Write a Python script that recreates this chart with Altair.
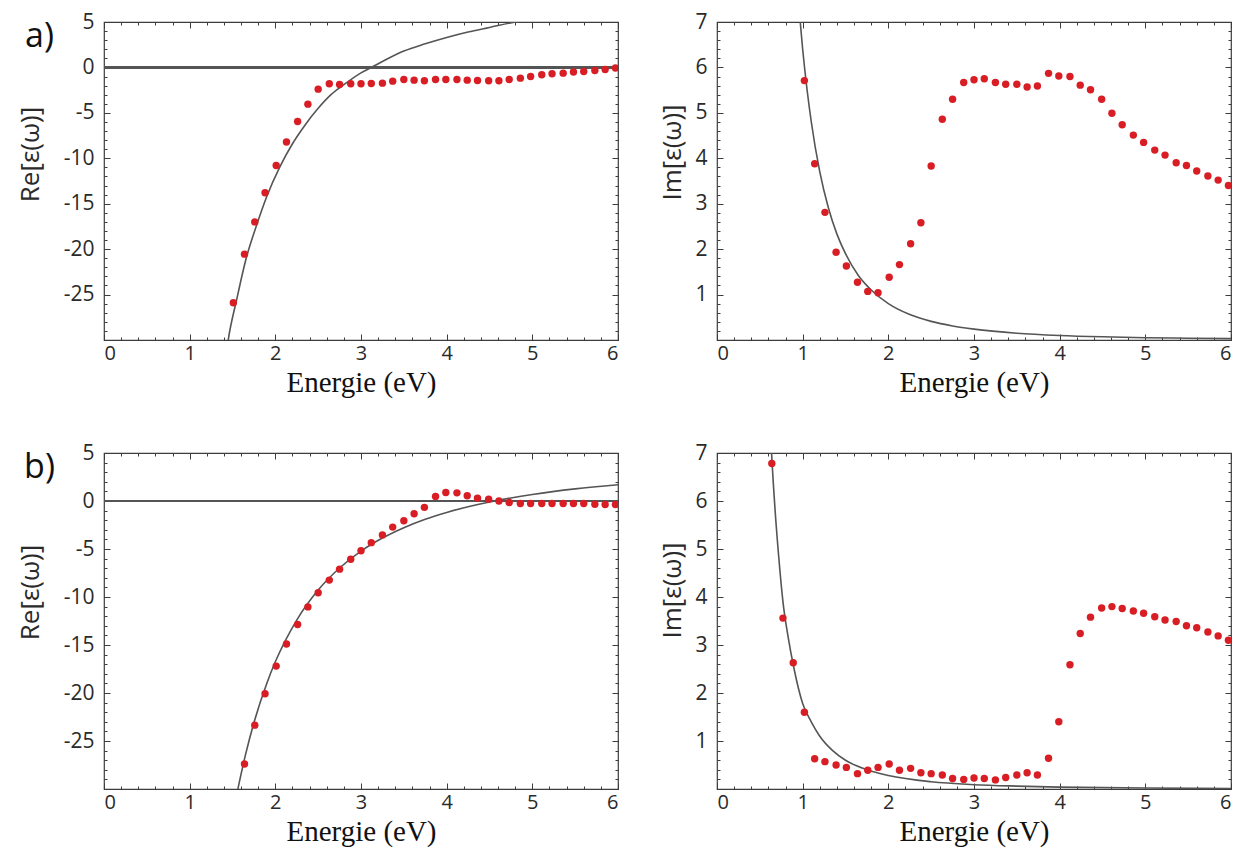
import altair as alt
import pandas as pd

# ---------------- data ----------------
# a) gold : Re part (points)
AU_RE_E = [1.51, 1.64, 1.76, 1.88, 2.01, 2.13, 2.26, 2.38, 2.50, 2.63, 2.75, 2.88, 3.00,
           3.12, 3.25, 3.37, 3.50, 3.62, 3.74, 3.87, 3.99, 4.12, 4.24, 4.36, 4.49, 4.61,
           4.73, 4.86, 4.98, 5.11, 5.23, 5.36, 5.48, 5.60, 5.73, 5.85, 5.97]
AU_RE_V = [-25.9, -20.55, -17.0, -13.8, -10.8, -8.2, -5.96, -4.04, -2.39, -1.80, -1.88, -1.80, -1.80,
           -1.76, -1.73, -1.51, -1.32, -1.40, -1.47, -1.32, -1.32, -1.32, -1.40, -1.43, -1.47, -1.47,
           -1.32, -1.18, -0.99, -0.81, -0.70, -0.63, -0.51, -0.44, -0.33, -0.22, -0.07]
# a) gold : Re part (model curve)
AU_RE_FIT_E = [1.40, 1.45, 1.55, 1.66, 1.78, 1.90, 2.05, 2.20, 2.35, 2.50, 2.65, 2.80, 3.00,
               3.12, 3.30, 3.50, 3.75, 4.00, 4.25, 4.50, 4.80, 5.00]
AU_RE_FIT_V = [-33.5, -30.0, -25.5, -21.0, -17.4, -14.2, -11.0, -8.4, -6.3, -4.5, -3.0, -1.9, -0.6,
               0.0, 0.9, 1.8, 2.6, 3.3, 3.9, 4.4, 5.0, 5.3]

# a) gold : Im part (points)
AU_IM_E = [1.02, 1.14, 1.26, 1.39, 1.51, 1.64, 1.76, 1.88, 2.01, 2.13, 2.26, 2.38, 2.50, 2.63,
           2.75, 2.88, 3.00, 3.12, 3.25, 3.37, 3.50, 3.62, 3.74, 3.87, 3.99, 4.12, 4.24, 4.36,
           4.49, 4.61, 4.73, 4.86, 4.98, 5.11, 5.23, 5.36, 5.48, 5.60, 5.73, 5.85, 5.97]
AU_IM_V = [5.71, 3.88, 2.81, 1.93, 1.63, 1.27, 1.07, 1.04, 1.38, 1.66, 2.12, 2.58, 3.83, 4.86,
           5.30, 5.67, 5.73, 5.75, 5.67, 5.63, 5.63, 5.57, 5.59, 5.87, 5.81, 5.80, 5.61, 5.51,
           5.30, 4.99, 4.74, 4.51, 4.35, 4.18, 4.07, 3.90, 3.84, 3.72, 3.61, 3.52, 3.40]
# a) gold : Im part (model curve)
AU_IM_FIT_E = [0.95, 1.00, 1.05, 1.10, 1.20, 1.30, 1.40, 1.50, 1.65, 1.80, 2.00, 2.25, 2.50,
               2.75, 3.00, 3.50, 4.00, 4.50, 5.00, 5.50, 6.00]
AU_IM_FIT_V = [7.46, 6.40, 5.53, 4.81, 3.70, 2.91, 2.33, 1.90, 1.42, 1.10, 0.80, 0.56, 0.41,
               0.31, 0.24, 0.15, 0.10, 0.07, 0.05, 0.04, 0.03]

# b) silver : Re part (points)
AG_RE_E = [1.64, 1.76, 1.88, 2.01, 2.13, 2.26, 2.38, 2.50, 2.63, 2.75, 2.88, 3.00, 3.12,
           3.25, 3.37, 3.50, 3.62, 3.74, 3.87, 3.99, 4.12, 4.24, 4.36, 4.49, 4.61, 4.73,
           4.86, 4.98, 5.11, 5.23, 5.36, 5.48, 5.60, 5.73, 5.85, 5.97]
AG_RE_V = [-27.4, -23.35, -20.07, -17.2, -14.9, -12.87, -11.03, -9.56, -8.24, -7.10, -6.07, -5.18, -4.34,
           -3.53, -2.72, -2.06, -1.32, -0.66, 0.48, 0.88, 0.85, 0.55, 0.29, 0.18, 0.0, -0.15,
           -0.26, -0.26, -0.26, -0.26, -0.26, -0.26, -0.26, -0.33, -0.37, -0.37]
# b) silver : Re part (model curve)
AG_RE_FIT_E = [1.50, 1.57, 1.65, 1.75, 1.90, 2.00, 2.25, 2.50, 2.75, 3.00, 3.25, 3.50, 3.75,
               4.00, 4.25, 4.50, 4.75, 5.00, 5.50, 6.00]
AG_RE_FIT_V = [-32.9, -29.7, -26.5, -23.1, -19.0, -16.75, -12.4, -9.28, -6.98, -5.22, -3.86, -2.78, -1.90,
               -1.19, -0.60, -0.10, 0.32, 0.68, 1.26, 1.69]

# b) silver : Im part (points)
AG_IM_E = [0.64, 0.77, 0.89, 1.02, 1.14, 1.26, 1.39, 1.51, 1.64, 1.76, 1.88, 2.01, 2.13, 2.26,
           2.38, 2.50, 2.63, 2.75, 2.88, 3.00, 3.12, 3.25, 3.37, 3.50, 3.62, 3.74, 3.87, 3.99,
           4.12, 4.24, 4.36, 4.49, 4.61, 4.73, 4.86, 4.98, 5.11, 5.23, 5.36, 5.48, 5.60, 5.73,
           5.85, 5.97]
AG_IM_V = [6.78, 3.56, 2.63, 1.60, 0.63, 0.57, 0.50, 0.45, 0.32, 0.39, 0.45, 0.52, 0.39, 0.43,
           0.34, 0.32, 0.29, 0.22, 0.20, 0.23, 0.22, 0.19, 0.24, 0.29, 0.34, 0.29, 0.64, 1.40,
           2.59, 3.24, 3.58, 3.77, 3.80, 3.76, 3.71, 3.66, 3.59, 3.52, 3.49, 3.40, 3.36, 3.27,
           3.19, 3.10]
# b) silver : Im part (model curve)
AG_IM_FIT_E = [0.62, 0.64, 0.68, 0.72, 0.77, 0.83, 0.90, 1.00, 1.10, 1.20, 1.35, 1.50, 1.75,
               2.00, 2.50, 3.00, 3.50, 4.00, 5.00, 6.00]
AG_IM_FIT_V = [7.60, 6.90, 5.76, 4.85, 3.90, 3.17, 2.50, 1.78, 1.40, 1.10, 0.80, 0.60, 0.40,
               0.28, 0.15, 0.09, 0.06, 0.04, 0.02, 0.01]

# axis tick values / labels
X_MAJOR = [0, 1, 2, 3, 4, 5, 6]
X_MINOR = [round(0.2 * i, 1) for i in range(31)]
RE_MAJOR = [5, 0, -5, -10, -15, -20, -25]
RE_MINOR = list(range(-30, 6))
IM_MAJOR = [1, 2, 3, 4, 5, 6, 7]
IM_MINOR = [round(0.2 * i, 1) for i in range(36)]

RE_TITLE = "Re[ε(ω)]"
IM_TITLE = "Im[ε(ω)]"
X_TITLE = "Energie (eV)"

RED = "#d81e24"
CURVE = "#555555"
FRAME = "#3c3c3c"
TXT = "#2a2a2a"

W = 514
H_TOP, H_BOT = 318, 336
MAJ, MIN = 6, 3


def tick_axis(orient, values, size, **extra):
    return alt.Axis(orient=orient, values=values, tickSize=size, offset=-size,
                    labels=False, domain=False, grid=False,
                    tickColor=FRAME, tickWidth=1, **extra)


def panel(pe, pv, ce, cv, ydom, ymaj, ymin, ytitle, title_x, title_y, zero, height, tag=None):
    pts = pd.DataFrame({"E": pe, "V": pv})
    crv = pd.DataFrame({"E": ce, "V": cv})
    xs = alt.Scale(domain=[0, 6], nice=False, zero=False)
    ys = alt.Scale(domain=ydom, nice=False, zero=False)

    x_main = alt.Axis(orient="bottom", values=X_MAJOR, tickSize=MAJ, offset=-MAJ,
                      domain=False, grid=False, tickColor=FRAME, tickWidth=1,
                      labelPadding=3, labelFont="Open Sans", labelFontSize=20,
                      labelColor=TXT, title=X_TITLE, titleFont="Liberation Serif",
                      titleFontSize=29, titleFontWeight="normal", titleColor="#111111",
                      titlePadding=5)
    y_main = alt.Axis(orient="left", values=ymaj, tickSize=MAJ, offset=-MAJ,
                      domain=False, grid=False, tickColor=FRAME, tickWidth=1,
                      labelPadding=10, labelFont="Open Sans", labelFontSize=21,
                      labelColor=TXT, labelExpr="toString(datum.value)",
                      title=ytitle, titleFont="Open Sans",
                      titleFontSize=26, titleFontWeight="normal", titleColor=TXT,
                      titleX=title_x, titleY=title_y, titleBaseline="middle",
                      titleAlign="center", titleAngle=270)
    if tag:
        y_minor_left = tick_axis("left", ymin, MIN, title=tag, titleAngle=0,
                                 titleX=-68, titleY=14, titleAlign="center",
                                 titleBaseline="middle", titleFont="Open Sans",
                                 titleFontSize=34, titleFontWeight="normal",
                                 titleColor="#111111")
    else:
        y_minor_left = tick_axis("left", ymin, MIN, title=None)

    layers = []
    if zero:
        layers.append(
            alt.Chart(pts).mark_rule(color=CURVE, strokeWidth=1.4).encode(
                y=alt.Y(datum=0, scale=ys, axis=None)
            )
        )
    layers.append(
        alt.Chart(crv).mark_line(color=CURVE, strokeWidth=1.6, clip=True,
                                 interpolate="monotone").encode(
            x=alt.X("E:Q", scale=xs, axis=tick_axis("bottom", X_MINOR, MIN, title=None)),
            y=alt.Y("V:Q", scale=ys, axis=y_minor_left),
        )
    )
    layers.append(
        alt.Chart(crv).mark_line(strokeOpacity=0, clip=True).encode(
            x=alt.X("E:Q", scale=xs, axis=tick_axis("top", X_MAJOR, MAJ, title=None)),
            y=alt.Y("V:Q", scale=ys, axis=tick_axis("right", ymaj, MAJ, title=None)),
        )
    )
    layers.append(
        alt.Chart(crv).mark_line(strokeOpacity=0, clip=True).encode(
            x=alt.X("E:Q", scale=xs, axis=tick_axis("top", X_MINOR, MIN, title=None)),
            y=alt.Y("V:Q", scale=ys, axis=tick_axis("right", ymin, MIN, title=None)),
        )
    )
    layers.append(
        alt.Chart(pts).mark_circle(color=RED, size=55, opacity=1, clip=True).encode(
            x=alt.X("E:Q", scale=xs, axis=x_main),
            y=alt.Y("V:Q", scale=ys, axis=y_main),
        )
    )
    return alt.layer(*layers).resolve_axis(x="independent", y="independent").properties(
        width=W, height=height
    )


a_re = panel(AU_RE_E, AU_RE_V, AU_RE_FIT_E, AU_RE_FIT_V, [-30, 5], RE_MAJOR, RE_MINOR,
             RE_TITLE, -80, 132, True, H_TOP, "a)")
a_im = panel(AU_IM_E, AU_IM_V, AU_IM_FIT_E, AU_IM_FIT_V, [0, 7], IM_MAJOR, IM_MINOR,
             IM_TITLE, -51, 130, False, H_TOP)
b_re = panel(AG_RE_E, AG_RE_V, AG_RE_FIT_E, AG_RE_FIT_V, [-30, 5], RE_MAJOR, RE_MINOR,
             RE_TITLE, -80, 139, True, H_BOT, "b)")
b_im = panel(AG_IM_E, AG_IM_V, AG_IM_FIT_E, AG_IM_FIT_V, [0, 7], IM_MAJOR, IM_MINOR,
             IM_TITLE, -51, 137, False, H_BOT)

chart = alt.concat(a_re, a_im, b_re, b_im, columns=2,
                   spacing={"row": 113, "column": 99}, bounds="flush").properties(
    padding={"left": 8, "top": 2, "right": 5, "bottom": 3},
    background="white",
).configure_view(stroke=FRAME, strokeWidth=1.2)

chart.save("out.html", embed_options={"renderer": "svg", "actions": False})
